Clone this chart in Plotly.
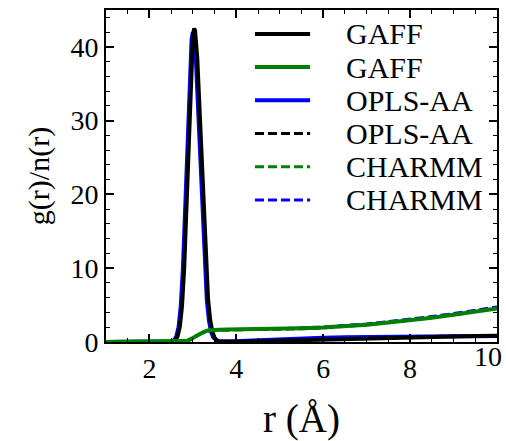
import plotly.graph_objects as go

# ---- data ----
r_peak = [1.0, 2.5, 2.55, 2.6, 2.65, 2.7, 2.75, 2.8, 2.85, 2.9, 2.95, 3.0, 3.03, 3.05, 3.1, 3.15,
          3.2, 3.25, 3.3, 3.35, 3.4, 3.45, 3.5, 3.55, 3.6, 3.7, 3.8, 4.0, 4.5, 5.0, 5.5, 6.0,
          6.5, 7.0, 7.5, 8.0, 8.5, 9.0, 9.5, 10.0]
gaff_g = [0, 0.02, 0.08, 0.27, 0.8, 2.1, 4.9, 10.0, 17.5, 26.7, 35.7, 41.5, 42.5, 42.2, 38.6, 32.1,
          24.2, 16.5, 10.2, 5.75, 2.9, 1.36, 0.57, 0.22, 0.08, 0.03, 0.02, 0.03, 0.1, 0.18, 0.28, 0.38,
          0.48, 0.57, 0.64, 0.7, 0.75, 0.79, 0.82, 0.85]

r_peak_b = [1.0, 2.47, 2.52, 2.57, 2.62, 2.67, 2.72, 2.77, 2.82, 2.87, 2.92, 2.97, 3.0, 3.02, 3.07, 3.12,
            3.17, 3.22, 3.27, 3.32, 3.37, 3.42, 3.47, 3.52, 3.57, 3.67, 3.8, 4.0, 4.5, 5.0, 5.5, 6.0,
            6.5, 7.0, 7.5, 8.0, 8.5, 9.0, 9.5, 10.0]
opls_g = [0, 0.02, 0.08, 0.26, 0.8, 2.0, 4.8, 9.9, 17.3, 26.4, 35.3, 41.0, 42.0, 41.7, 38.1, 31.7,
          23.9, 16.3, 10.1, 5.7, 2.9, 1.35, 0.6, 0.3, 0.15, 0.1, 0.08, 0.1, 0.25, 0.4, 0.5, 0.58,
          0.63, 0.68, 0.71, 0.74, 0.76, 0.78, 0.79, 0.8]

r_peak_c = [1.0, 2.49, 2.54, 2.59, 2.64, 2.69, 2.74, 2.79, 2.84, 2.89, 2.94, 2.99, 3.02, 3.04, 3.09, 3.14,
            3.19, 3.24, 3.29, 3.34, 3.39, 3.44, 3.49, 3.54, 3.59, 3.69, 3.8, 4.0, 4.5, 5.0, 5.5, 6.0,
            6.5, 7.0, 7.5, 8.0, 8.5, 9.0, 9.5, 10.0]
charmm_g = [0, 0.02, 0.08, 0.27, 0.8, 2.1, 4.9, 10.0, 17.4, 26.5, 35.5, 41.3, 42.2, 41.9, 38.3, 31.9,
            24.0, 16.4, 10.1, 5.7, 2.9, 1.35, 0.57, 0.22, 0.08, 0.03, 0.03, 0.05, 0.12, 0.2, 0.3, 0.4,
            0.5, 0.58, 0.65, 0.71, 0.76, 0.8, 0.83, 0.86]

r_n = [1.0, 2.7, 2.75, 2.8, 2.85, 2.9, 2.95, 3.0, 3.05, 3.1, 3.15, 3.2, 3.25, 3.3, 3.35, 3.4,
       3.5, 3.6, 3.8, 4.0, 4.5, 5.0, 5.5, 6.0, 6.5, 7.0, 7.5, 8.0, 8.5, 9.0, 9.5, 10.0]
gaff_n = [0, 0, 0.02, 0.06, 0.12, 0.22, 0.35, 0.5, 0.68, 0.87, 1.05, 1.22, 1.36, 1.47, 1.55, 1.6,
          1.65, 1.67, 1.68, 1.69, 1.71, 1.74, 1.85, 1.95, 2.12, 2.35, 2.65, 2.95, 3.3, 3.7, 4.1, 4.55]
opls_n = [0, 0.01, 0.04, 0.09, 0.17, 0.28, 0.42, 0.58, 0.76, 0.94, 1.1, 1.25, 1.37, 1.46, 1.52, 1.56,
          1.6, 1.62, 1.63, 1.64, 1.66, 1.7, 1.8, 1.92, 2.1, 2.34, 2.64, 2.96, 3.32, 3.72, 4.14, 4.6]
charmm_n = [0, 0, 0.02, 0.06, 0.12, 0.22, 0.35, 0.5, 0.68, 0.87, 1.05, 1.22, 1.36, 1.47, 1.55, 1.6,
            1.66, 1.68, 1.7, 1.71, 1.74, 1.78, 1.9, 2.02, 2.2, 2.45, 2.76, 3.08, 3.45, 3.85, 4.28, 4.75]

# x tick labels (the last one is placed by hand so it stays inside the picture)
x_tickvals = [2, 4, 6, 8]
x_last_tick = 10

# legend labels, in legend order
legend_labels = ["GAFF", "GAFF", "OPLS-AA", "OPLS-AA", "CHARMM", "CHARMM"]

BLACK, GREEN, BLUE = "#000000", "#008000", "#0000ff"
DASH = "9px,4px"
SOLID_W, DASH_W = 4, 3

# legend order -> (x, y, colour, dashed)
series = [
    (r_peak, gaff_g, BLACK, False),
    (r_n, gaff_n, GREEN, False),
    (r_peak_b, opls_g, BLUE, False),
    (r_n, opls_n, BLACK, True),
    (r_peak_c, charmm_g, GREEN, True),
    (r_n, charmm_n, BLUE, True),
]
draw_order = [4, 2, 0, 3, 5, 1]  # later on top

fig = go.Figure()
for i in draw_order:
    x, y, col, dashed = series[i]
    fig.add_trace(go.Scatter(
        x=x, y=y, name=legend_labels[i], mode="lines", showlegend=False,
        line=dict(color=col, width=DASH_W if dashed else SOLID_W, dash=DASH if dashed else "solid")))

FONT = "Liberation Serif"
TICK_SIZE = 28

# hand-drawn legend (compact row spacing like the original)
shapes, annotations = [], []
leg_x0, leg_x1, leg_tx = 0.381, 0.522, 0.609
leg_y0, leg_dy = 0.928, 0.1
for i, (x, y, col, dashed) in enumerate(series):
    yy = leg_y0 - i * leg_dy
    shapes.append(dict(type="line", xref="paper", yref="paper", x0=leg_x0, x1=leg_x1, y0=yy, y1=yy,
                       line=dict(color=col, width=DASH_W if dashed else SOLID_W,
                                 dash=DASH if dashed else "solid")))
    annotations.append(dict(xref="paper", yref="paper", x=leg_tx, y=yy, xanchor="left", yanchor="middle",
                            text=legend_labels[i], showarrow=False,
                            font=dict(family=FONT, size=30, color="black")))

# last x tick label, right-aligned near the axis end
annotations.append(dict(xref="x", yref="paper", x=x_last_tick, y=0, xanchor="right", yanchor="top",
                        xshift=7, yshift=3, text=str(x_last_tick), showarrow=False,
                        font=dict(family=FONT, size=TICK_SIZE, color="black")))

axis_common = dict(showline=True, linecolor="black", linewidth=2, mirror="allticks",
                   ticks="inside", tickcolor="black", tickwidth=1.5, ticklen=8,
                   showgrid=False, zeroline=False, automargin=False,
                   tickfont=dict(family=FONT, size=TICK_SIZE, color="black"))

fig.update_layout(
    template="none",
    width=506, height=441,
    margin=dict(l=106, r=9, t=10, b=99),
    paper_bgcolor="white", plot_bgcolor="white",
    font=dict(family=FONT, color="black"),
    xaxis=dict(range=[1, 10], tickmode="array", tickvals=x_tickvals,
               minor=dict(dtick=0.5, tick0=0, ticks="inside", ticklen=4, tickcolor="black", tickwidth=1,
                          showgrid=False),
               title=dict(text="r (Å)", font=dict(family=FONT, size=39), standoff=22),
               **axis_common),
    yaxis=dict(range=[0, 45], dtick=10, tick0=0,
               minor=dict(dtick=2, ticks="inside", ticklen=4, tickcolor="black", tickwidth=1,
                          showgrid=False),
               title=dict(text="g(r)/n(r)", font=dict(family=FONT, size=30), standoff=12),
               **axis_common),
    shapes=shapes,
    annotations=annotations,
    showlegend=False,
)

fig.write_html("out.html")
